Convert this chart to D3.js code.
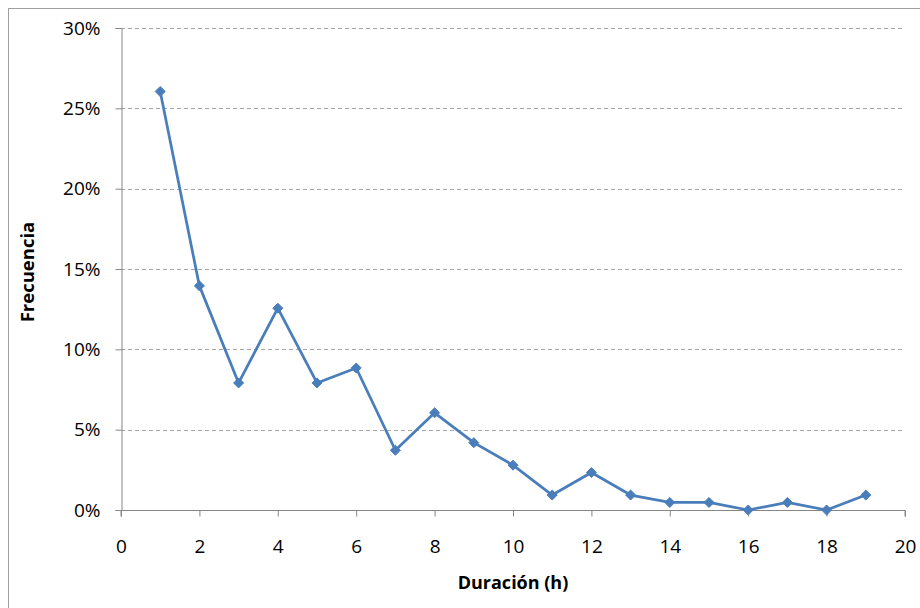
<!DOCTYPE html>
<html>
<head>
<meta charset="utf-8">
<script src="https://cdn.jsdelivr.net/npm/d3@7"></script>
<style>
  html, body { margin: 0; padding: 0; background: #fff; }
  svg { display: block; font-family: "Open Sans", sans-serif; }
</style>
</head>
<body>
<svg id="chart" width="920" height="608"></svg>
<script>
// Duration (hours) of events and their relative frequency (%)
const durations = [1, 2, 3, 4, 5, 6, 7, 8, 9, 10, 11, 12, 13, 14, 15, 16, 17, 18, 19];
const frequencies = [26.05, 13.95, 7.91, 12.56, 7.91, 8.84, 3.72, 6.05, 4.19, 2.79, 0.93, 2.33, 0.93, 0.47, 0.47, 0, 0.47, 0, 0.93];
const xTicks = [0, 2, 4, 6, 8, 10, 12, 14, 16, 18, 20];
const yTicks = [0, 5, 10, 15, 20, 25, 30];
const xTitle = "Duración (h)";
const yTitle = "Frecuencia";

const svg = d3.select("#chart");
const margin = { left: 121, right: 15, top: 28, bottom: 98 };
const W = 920, H = 608;

// Outer chart frame
svg.append("rect")
  .attr("x", 8.5).attr("y", 8.5)
  .attr("width", W).attr("height", H)
  .attr("fill", "none").attr("stroke", "#a0a0a0").attr("stroke-width", 1);

const x = d3.scaleLinear().domain([0, 20]).range([margin.left, W - margin.right]);
const y = d3.scaleLinear().domain([0, 30]).range([H - margin.bottom, margin.top]);

// Horizontal dashed gridlines
svg.append("g")
  .selectAll("line")
  .data(yTicks)
  .join("line")
  .attr("x1", x(0)).attr("x2", x(20))
  .attr("y1", d => Math.round(y(d)) + 0.5).attr("y2", d => Math.round(y(d)) + 0.5)
  .attr("stroke", "#a6a6a6").attr("stroke-dasharray", "4,3");

// Y axis
const yAxis = svg.append("g")
  .attr("transform", `translate(${Math.round(x(0)) + 0.5},0)`)
  .call(d3.axisLeft(y).tickValues(yTicks).tickFormat(d => d + "%").tickSize(6).tickPadding(15));
// X axis
const xAxis = svg.append("g")
  .attr("transform", `translate(0,${Math.round(y(0)) + 0.5})`)
  .call(d3.axisBottom(x).tickValues(xTicks).tickFormat(d3.format("d")).tickSize(6).tickPadding(23));

[yAxis, xAxis].forEach(g => {
  g.select(".domain").attr("stroke", "#868686");
  g.selectAll(".tick line").attr("stroke", "#868686");
  g.selectAll("text").attr("fill", "#000").style("font-size", "19px")
    .style("font-family", "'Open Sans', sans-serif");
});
xAxis.select(".domain").attr("d", `M${x(0)},6V0H${x(20)}V6`);

// Line series
const line = d3.line().x((d, i) => x(durations[i])).y(d => y(d));
svg.append("path")
  .datum(frequencies)
  .attr("d", line)
  .attr("fill", "none")
  .attr("stroke", "#4a7ebb")
  .attr("stroke-width", 2.75)
  .attr("stroke-linejoin", "round");

// Diamond markers
const diamond = d3.symbol().type(d3.symbolDiamond2).size(64);
svg.append("g")
  .selectAll("path")
  .data(frequencies)
  .join("path")
  .attr("transform", (d, i) => `translate(${x(durations[i])},${y(d)})`)
  .attr("d", diamond)
  .attr("fill", "#4a7ebb")
  .attr("stroke", "#4a7ebb")
  .attr("stroke-width", 1);

// Axis titles
svg.append("text")
  .attr("x", (x(0) + x(20)) / 2).attr("y", 589)
  .attr("text-anchor", "middle")
  .style("font-size", "18px").style("font-weight", "bold")
  .text(xTitle);
svg.append("text")
  .attr("transform", `translate(34,${(y(0) + y(30)) / 2 + 3}) rotate(-90)`)
  .attr("text-anchor", "middle")
  .style("font-size", "18.5px").style("font-weight", "bold")
  .text(yTitle);
</script>
</body>
</html>
